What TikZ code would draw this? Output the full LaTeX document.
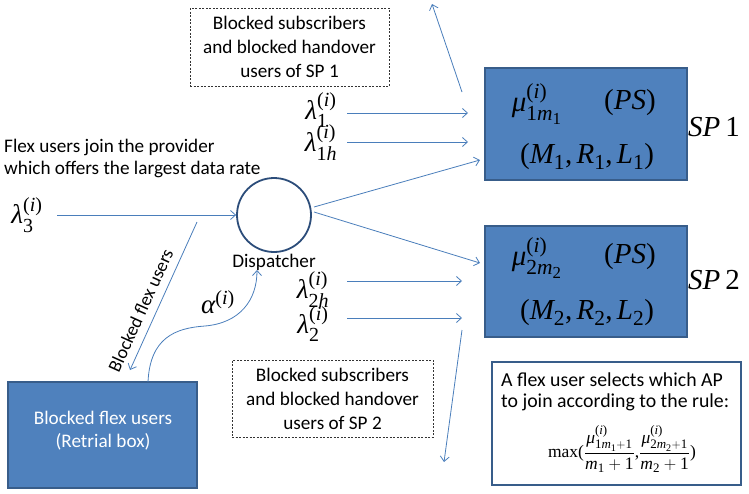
\documentclass[tikz,border=0pt]{standalone}
\usepackage{amsmath}
\usepackage{fontspec}
\setmainfont{Carlito}
\newfontfamily\tnr{Liberation Serif}
\usetikzlibrary{arrows.meta}
\definecolor{boxfill}{HTML}{4F81BD}
\definecolor{boxedge}{HTML}{385D8A}
\definecolor{flow}{HTML}{4A7EBB}
\definecolor{ring}{HTML}{2C4D7A}
% slightly larger indices than the LaTeX default
\renewcommand\defaultscriptratio{.74}
\renewcommand\defaultscriptscriptratio{.58}
% Times-style symbols: italic variables, upright digits and brackets
\newcommand\vi[1]{\text{\tnr\itshape #1}}
\newcommand\vu[1]{\text{\tnr #1}}
\newcommand\supi{^{\vu{(}\vi{i}\vu{)}}}
\begin{document}
\begin{tikzpicture}[x=1pt,y=-1pt,
  flowarrow/.style={draw=flow, line width=0.8pt, -{Straight Barb[length=5pt,width=9pt]}},
  note/.style={draw=black!80, dashed, dash pattern=on 2pt off 1.5pt, line width=0.7pt,
    align=center, inner sep=0pt, font=\fontsize{19.2}{24}\selectfont},
  spbox/.style={draw=boxedge, fill=boxfill, line width=1.5pt, inner sep=0pt},
  mathlbl/.style={inner sep=0pt, font=\fontsize{27}{30}\selectfont},
  boxmath/.style={inner sep=0pt, font=\fontsize{29}{32}\selectfont},
  sptag/.style={inner sep=0pt, font=\fontsize{29}{32}\selectfont},
  plain/.style={inner sep=0pt, font=\fontsize{19.2}{22}\selectfont}]
\useasboundingbox (0,0) rectangle (749,493);

% service provider boxes
\node[spbox, minimum width=202pt, minimum height=112pt] (sp1) at (586,124) {};
\node[spbox, minimum width=202pt, minimum height=111pt] (sp2) at (586,281.5) {};
\node[boxmath] (mu1) at (537,104) {$\vi{μ}\supi_{\vu{1}\vi{m}_{\vu{1}}}$};
\node[boxmath] (ps1) at (630,103) {$\vu{(}\vi{PS}\vu{)}$};
\node[boxmath] (mrl1) at (587,157) {$\vu{(}\vi{M}_{\vu{1}}\vu{,}\,\vi{R}_{\vu{1}}\vu{,}\,\vi{L}_{\vu{1}}\vu{)}$};
\node[boxmath] (mu2) at (537,258) {$\vi{μ}\supi_{\vu{2}\vi{m}_{\vu{2}}}$};
\node[boxmath] (ps2) at (630,257) {$\vu{(}\vi{PS}\vu{)}$};
\node[boxmath] (mrl2) at (587,313) {$\vu{(}\vi{M}_{\vu{2}}\vu{,}\,\vi{R}_{\vu{2}}\vu{,}\,\vi{L}_{\vu{2}}\vu{)}$};
\node[sptag] (tag1) at (714,127) {\vi{SP}\,\vu{1}};
\node[sptag] (tag2) at (714,280) {\vi{SP}\,\vu{2}};

% notes on blocked users
\node[note, minimum width=199pt, minimum height=78pt] (note1) at (289.5,47)
  {Blocked subscribers\\and blocked handover\\users of SP 1};
\node[note, minimum width=201pt, minimum height=77pt] (note2) at (332.5,398.5)
  {Blocked subscribers\\and blocked handover\\users of SP 2};

% dispatcher
\node[circle, draw=ring, line width=1.8pt, minimum size=74pt, inner sep=0pt] (disp) at (274,215) {};
\node[plain] (disptxt) at (274,262) {Dispatcher};

% arrival streams
\node[mathlbl] (l3) at (27,215) {$\vi{λ}\supi_{\vu{3}}$};
\node[mathlbl] (l1) at (321,110) {$\vi{λ}\supi_{\vu{1}}$};
\node[mathlbl] (l1h) at (321,143) {$\vi{λ}\supi_{\vu{1}\vi{h}}$};
\node[mathlbl] (l2h) at (313,290) {$\vi{λ}\supi_{\vu{2}\vi{h}}$};
\node[mathlbl] (l2) at (313,324) {$\vi{λ}\supi_{\vu{2}}$};
\node[mathlbl] (alpha) at (218,302) {$\vi{α}\supi$};

\node[plain, align=left, anchor=west, font=\fontsize{19.2}{22}\selectfont] (flexnote) at (4,158)
  {Flex users join the provider\\which offers the largest data rate};

% retrial box
\node[spbox, minimum width=189pt, minimum height=106pt] (retrial) at (102.5,435) {};
\node[plain, text=white, align=center, font=\fontsize{19.2}{23}\selectfont] (rettxt) at (103,431)
  {Blocked flex users\\(Retrial box)};

% rule box
\node[draw=boxedge, line width=1.8pt, fill=white, minimum width=249pt, minimum height=123pt, inner sep=0pt] (rule) at (616.5,423.5) {};
\node[plain, align=left, anchor=west, font=\fontsize{19.8}{21}\selectfont] (ruletxt) at (501,392)
  {A flex user selects which AP\\to join according to the rule:};
\node[inner sep=0pt, font=\fontsize{17.5}{19}\selectfont] (formula) at (622,449)
  {$\vu{max(}\dfrac{\vi{μ}\supi_{\vu{1}\vi{m}_{\vu{1}}+\vu{1}}}{\vi{m}_{\vu{1}}+\vu{1}}\vu{,}\dfrac{\vi{μ}\supi_{\vu{2}\vi{m}_{\vu{2}}+\vu{1}}}{\vi{m}_{\vu{2}}+\vu{1}}\vu{)}$};

% connector end points
\coordinate (a1s) at (347,113);  \coordinate (a1e) at (468,113);
\coordinate (a1hs) at (347,142); \coordinate (a1he) at (468,142);
\coordinate (a2hs) at (347,281); \coordinate (a2he) at (462,281);
\coordinate (a2s) at (347,318);  \coordinate (a2e) at (462,318);
\coordinate (ups) at (462,92);   \coordinate (upe) at (432,4);
\coordinate (dns) at (462,330);  \coordinate (dne) at (444,462);
\coordinate (d1s) at (314,207);  \coordinate (d1e) at (480,160);
\coordinate (d2s) at (314,212);  \coordinate (d2e) at (480,263);
\coordinate (bfs) at (197,222);  \coordinate (bfe) at (130,370);
\coordinate (als) at (148,382);  \coordinate (ale) at (257,270);
\coordinate (l3s) at (57,215);

\draw[flowarrow] (l3s) -- (disp.west);
\draw[flowarrow] (a1s) -- (a1e);
\draw[flowarrow] (a1hs) -- (a1he);
\draw[flowarrow] (a2hs) -- (a2he);
\draw[flowarrow] (a2s) -- (a2e);
\draw[flowarrow] (ups) -- (upe);
\draw[flowarrow] (dns) -- (dne);
\draw[flowarrow] (d1s) -- (d1e);
\draw[flowarrow] (d2s) -- (d2e);
\draw[flowarrow] (bfs) -- (bfe)
  node[pos=0.64, sloped, above=8pt, plain, font=\fontsize{18.5}{20}\selectfont] {Blocked flex users};
\draw[flowarrow] (als) .. controls (150,338) and (175,328) .. (205,326)
  .. controls (240,323) and (257,300) .. (ale);
\end{tikzpicture}
\end{document}
